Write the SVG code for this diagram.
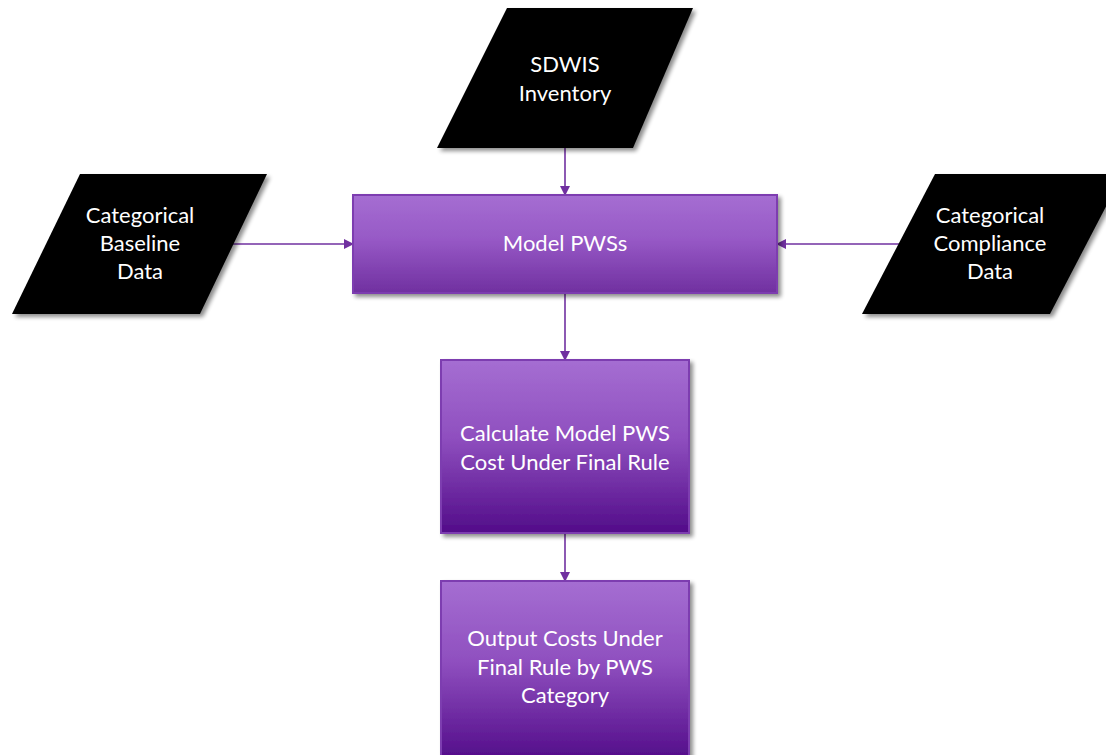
<svg xmlns="http://www.w3.org/2000/svg" width="1106" height="755" viewBox="0 0 1106 755">
<defs>
<linearGradient id="pg" x1="0" y1="0" x2="0" y2="1">
<stop offset="0" stop-color="#A56ED2"/>
<stop offset="0.45" stop-color="#9759C6"/>
<stop offset="1" stop-color="#7030A0"/>
</linearGradient>
<linearGradient id="pg2" x1="0" y1="0" x2="0" y2="1">
<stop offset="0" stop-color="#A56ED2"/>
<stop offset="0.45" stop-color="#8F4FBF"/>
<stop offset="1" stop-color="#520C89"/>
</linearGradient>
<filter id="sh" x="-10%" y="-10%" width="130%" height="130%">
<feGaussianBlur in="SourceAlpha" stdDeviation="2"/>
<feOffset dx="3" dy="3" result="b"/>
<feComponentTransfer><feFuncA type="linear" slope="0.45"/></feComponentTransfer>
<feMerge><feMergeNode/><feMergeNode in="SourceGraphic"/></feMerge>
</filter>
<marker id="ah" markerWidth="10" markerHeight="10" refX="9" refY="5" orient="auto" markerUnits="userSpaceOnUse">
<path d="M0,0 L10,5 L0,10 Z" fill="#7030A0"/>
</marker>
</defs>
<style>
.data{fill:#000;filter:url(#sh)}
.box{stroke:#7D3DB0;stroke-width:2;filter:url(#sh)}
.t{font-family:Lato,"Open Sans",sans-serif;font-size:22px;fill:#fff;text-anchor:middle}
.c{stroke:#7030A0;stroke-width:1.6;fill:none;marker-end:url(#ah)}
</style>
<rect width="1106" height="755" fill="#fff"/>
<g id="connectors">
<line class="c" x1="565" y1="148" x2="565" y2="195"/>
<line class="c" x1="233" y1="244" x2="353" y2="244"/>
<line class="c" x1="903" y1="244" x2="777" y2="244"/>
<line class="c" x1="565" y1="293" x2="565" y2="360"/>
<line class="c" x1="565" y1="533" x2="565" y2="581"/>
</g>
<g id="sdwis">
<polygon class="data" points="507,8 693,8 633,148 437,148"/>
<text class="t" x="565" y="72">SDWIS</text>
<text class="t" x="565" y="101">Inventory</text>
</g>
<g id="baseline">
<polygon class="data" points="80,174 267,174 200,314 12,314"/>
<text class="t" x="140" y="223">Categorical</text>
<text class="t" x="140" y="251">Baseline</text>
<text class="t" x="140" y="279">Data</text>
</g>
<g id="compliance">
<polygon class="data" points="935,174 1123,174 1050,314 862,314"/>
<text class="t" x="990" y="223">Categorical</text>
<text class="t" x="990" y="251">Compliance</text>
<text class="t" x="990" y="279">Data</text>
</g>
<g id="model">
<rect class="box" x="353" y="195" width="424" height="98" fill="url(#pg)"/>
<text class="t" x="565" y="251">Model PWSs</text>
</g>
<g id="calculate">
<rect class="box" x="441" y="360" width="248" height="173" fill="url(#pg2)"/>
<text class="t" x="565" y="441">Calculate Model PWS</text>
<text class="t" x="565" y="470">Cost Under Final Rule</text>
</g>
<g id="output">
<rect class="box" x="441" y="581" width="248" height="180" fill="url(#pg2)"/>
<text class="t" x="565" y="646">Output Costs Under</text>
<text class="t" x="565" y="675">Final Rule by PWS</text>
<text class="t" x="565" y="703">Category</text>
</g>
</svg>
